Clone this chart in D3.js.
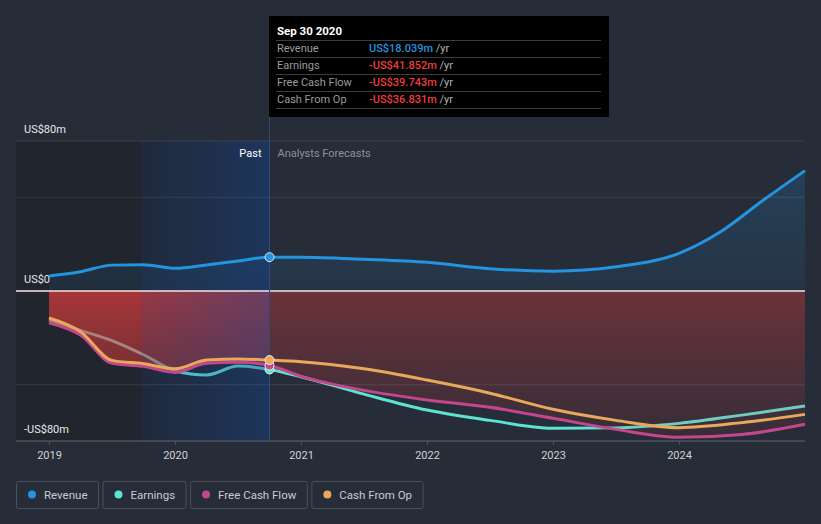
<!DOCTYPE html>
<html><head><meta charset="utf-8">
<script src="https://cdn.jsdelivr.net/npm/d3@7"></script>
<style>
html,body{margin:0;padding:0;background:#262c38;}
svg{display:block;font-family:Roboto,"Open Sans",sans-serif;}
</style></head>
<body><svg id="c" width="821" height="524"></svg>
<script>
// ---- data (fractional years, US$ millions) ----
const years = [2019.0, 2019.25, 2019.5, 2019.75, 2020.0, 2020.25, 2020.5, 2020.75, 2021.0, 2021.5, 2022.0, 2022.5, 2023.0, 2023.5, 2024.0, 2024.33, 2024.67, 2025.0];
const revenue = [8.0, 10.3, 13.8, 14.0, 12.1, 13.9, 16.0, 18.039, 18.0, 16.9, 15.3, 11.9, 10.6, 12.9, 20.1, 31.6, 48.5, 64.2];
const fyears = [2019.0, 2019.25, 2019.5, 2019.75, 2020.0, 2020.25, 2020.5, 2020.75, 2021.0, 2021.5, 2022.0, 2022.5, 2023.0, 2023.5, 2024.0, 2024.5, 2025.0];
const earnings = [-15.5, -21, -26.5, -34, -42.5, -44.8, -40, -41.852, -45.7, -55, -63.5, -69, -73.2, -73, -70.6, -66.2, -61.3];
const freeCashFlow = [-16.9, -23.5, -38.5, -40.2, -43.4, -38.5, -38.0, -39.743, -45.5, -53, -58.1, -62, -67.9, -73.8, -78.0, -76.5, -71.1];
const cashFromOp = [-14.4, -21.7, -37, -38.8, -41.5, -36.8, -36.2, -36.831, -37.7, -41.5, -47.5, -54.5, -63.1, -69, -72.9, -70.2, -65.8];
const xTicks = [2019, 2020, 2021, 2022, 2023, 2024];
const yLabels = [80, 0, -80];
const gridValues = [80, 50, -50];
const pastEnd = 2020.75, highlightStart = 2019.73;
const seriesNames = ["Revenue", "Earnings", "Free Cash Flow", "Cash From Op"];
const seriesColors = ["#2394df", "#5ee2d1", "#c4468c", "#e8a95a"];
const tipTitle = "Sep 30 2020";
const tipValues = ["US$18.039m", "-US$41.852m", "-US$39.743m", "-US$36.831m"];

const svg = d3.select("#c");
const x = d3.scaleLinear().domain([2019, 2025]).range([49, 805]);
const y = d3.scaleLinear().domain([-80, 80]).range([441, 141]);
const L = 16, R = 805;
const defs = svg.append("defs");

// backgrounds
svg.append("rect").attr("x", L).attr("y", 141).attr("width", x(pastEnd) - L).attr("height", 300).attr("fill", "#20252e");

// gradients
function vgrad(id, stops, y1, y2) {
  const g = defs.append("linearGradient").attr("id", id).attr("gradientUnits", "userSpaceOnUse")
    .attr("x1", 0).attr("x2", 0).attr("y1", y1).attr("y2", y2);
  stops.forEach(s => g.append("stop").attr("offset", s[0]).attr("stop-color", s[1]).attr("stop-opacity", s[2]));
}
vgrad("revG", [[0, "#2394df", 0.22], [1, "#2394df", 0.08]], y(80), y(0));
vgrad("redPast", [[0, "#dc3c3c", 0.72], [1, "#dc3c3c", 0.25]], y(0), y(-80));
vgrad("redFut", [[0, "#dc3c3c", 0.38], [1, "#dc3c3c", 0.08]], y(0), y(-80));
const hg = defs.append("linearGradient").attr("id", "hiG").attr("gradientUnits", "userSpaceOnUse")
  .attr("x1", x(highlightStart)).attr("x2", x(pastEnd)).attr("y1", 0).attr("y2", 0);
hg.append("stop").attr("offset", 0).attr("stop-color", "#1a4a9a").attr("stop-opacity", 0.12);
hg.append("stop").attr("offset", 1).attr("stop-color", "#1a4a9a").attr("stop-opacity", 0.42);

defs.append("clipPath").attr("id", "clipPast").append("rect").attr("x", 0).attr("y", 0).attr("width", x(pastEnd)).attr("height", 524);
defs.append("clipPath").attr("id", "clipFut").append("rect").attr("x", x(pastEnd)).attr("y", 0).attr("width", 821).attr("height", 524);

const curve = d3.curveMonotoneX;
const revData = years.map((t, i) => ({t, v: revenue[i]}));
const mk = arr => fyears.map((t, i) => ({t, v: arr[i]}));
const earnData = mk(earnings), fcfData = mk(freeCashFlow), cfoData = mk(cashFromOp);

// revenue area
svg.append("path").datum(revData)
  .attr("d", d3.area().x(d => x(d.t)).y0(y(0)).y1(d => y(d.v)).curve(curve))
  .attr("fill", "url(#revG)");

const line = d3.line().x(d => x(d.t)).y(d => y(d.v)).curve(curve);

// earnings line (under the fill)
svg.append("path").datum(earnData).attr("d", line).attr("fill", "none")
  .attr("stroke", seriesColors[1]).attr("stroke-width", 3);

// red fill bounded by free cash flow
const redArea = d3.area().x(d => x(d.t)).y0(y(0)).y1(d => y(d.v)).curve(curve);
svg.append("path").datum(fcfData).attr("d", redArea).attr("fill", "url(#redPast)").attr("clip-path", "url(#clipPast)");
svg.append("path").datum(fcfData).attr("d", redArea).attr("fill", "url(#redFut)").attr("clip-path", "url(#clipFut)");

// highlight overlay
svg.append("rect").attr("x", x(highlightStart)).attr("y", 141).attr("width", x(pastEnd) - x(highlightStart)).attr("height", 300)
  .attr("fill", "url(#hiG)");

// gridlines
svg.selectAll(".grid").data(gridValues).enter().append("line")
  .attr("x1", L).attr("x2", R).attr("y1", d => y(d)).attr("y2", d => y(d))
  .attr("stroke", "#ffffff").attr("stroke-opacity", 0.1).attr("stroke-width", 1);
// zero line
svg.append("line").attr("x1", L).attr("x2", R).attr("y1", y(0)).attr("y2", y(0))
  .attr("stroke", "#f4e4e4").attr("stroke-width", 1.3);

// vertical past line
svg.append("line").attr("x1", x(pastEnd)).attr("x2", x(pastEnd)).attr("y1", 117).attr("y2", 441)
  .attr("stroke", "#2d4c78").attr("stroke-width", 1);

// x axis
const xAxis = d3.axisBottom(x).tickValues(xTicks).tickFormat(d3.format("d")).tickSize(4).tickPadding(6);
const gx = svg.append("g").attr("transform", "translate(0,441)").call(xAxis);
gx.select(".domain").remove();
gx.insert("line", ":first-child").attr("x1", L).attr("x2", R).attr("stroke", "#4c525e").attr("stroke-width", 1.5);
gx.selectAll(".tick line").attr("stroke", "#4c525e");
gx.selectAll(".tick text").attr("fill", "#d0d2d6").attr("font-size", 11).attr("font-family", "Roboto");

// y labels
svg.selectAll(".ylab").data(yLabels).enter().append("text")
  .attr("x", 24).attr("y", d => y(d) - 8).attr("fill", "#e6e7ea").attr("font-size", 11)
  .text(d => d === 0 ? "US$0" : (d < 0 ? "-US$" + Math.abs(d) + "m" : "US$" + d + "m"));

// lines
[[fcfData, 2], [cfoData, 3], [revData, 0]].forEach(([data, i]) => {
  svg.append("path").datum(data).attr("d", line).attr("fill", "none")
    .attr("stroke", seriesColors[i]).attr("stroke-width", 3);
});

// markers
const idxPast = fyears.indexOf(pastEnd);
const markerVals = [revenue[years.indexOf(pastEnd)], earnings[idxPast], freeCashFlow[idxPast], cashFromOp[idxPast]];
[1, 2, 3, 0].forEach(i => {
  svg.append("circle").attr("cx", x(pastEnd)).attr("cy", y(markerVals[i])).attr("r", 4.5)
    .attr("fill", seriesColors[i]).attr("stroke", "#e8ecf2").attr("stroke-width", 1);
});

// Past / forecast labels
svg.append("text").attr("x", x(pastEnd) - 8).attr("y", 157).attr("text-anchor", "end")
  .attr("fill", "#ffffff").attr("font-size", 11).text("Past");
svg.append("text").attr("x", x(pastEnd) + 8).attr("y", 157)
  .attr("fill", "#8d9199").attr("font-size", 11).text("Analysts Forecasts");

// tooltip
const tip = svg.append("g");
tip.append("rect").attr("x", 269).attr("y", 16).attr("width", 340).attr("height", 101).attr("fill", "#000");
tip.append("text").attr("x", 277).attr("y", 35).attr("fill", "#fff").attr("font-size", 11.5).attr("font-weight", "bold").text(tipTitle);
const rowY = [40, 57, 74, 91];
rowY.concat([108]).forEach(yy => tip.append("line").attr("x1", 276).attr("x2", 601).attr("y1", yy + 0.5).attr("y2", yy + 0.5)
  .attr("stroke", "#3c3c3c").attr("stroke-width", 1));
seriesNames.forEach((n, i) => {
  tip.append("text").attr("x", 277).attr("y", rowY[i] + 12).attr("fill", "#9c9c9c").attr("font-size", 11).text(n);
  const t = tip.append("text").attr("x", 369).attr("y", rowY[i] + 12).attr("font-size", 11);
  t.append("tspan").attr("fill", i === 0 ? "#2394df" : "#ee3d3d").attr("font-weight", 500).text(tipValues[i]);
  t.append("tspan").attr("fill", "#b4b4b4").text(" /yr");
});

// legend
let lx = 16.5;
seriesNames.forEach((n, i) => {
  const g = svg.append("g");
  const txt = g.append("text").attr("x", lx + 27.5).attr("y", 498.5).attr("fill", "#c9cbd0").attr("font-size", 11.5).text(n);
  const tw = txt.node().getComputedTextLength();
  const w = 27.5 + tw + 11;
  g.insert("rect", ":first-child").attr("x", lx).attr("y", 481.5).attr("width", w).attr("height", 27).attr("rx", 2)
    .attr("fill", "none").attr("stroke", "#4a505c").attr("stroke-width", 1);
  g.append("circle").attr("cx", lx + 15.5).attr("cy", 494.5).attr("r", 4).attr("fill", seriesColors[i]);
  lx += w + 4.5;
});
</script></body></html>
